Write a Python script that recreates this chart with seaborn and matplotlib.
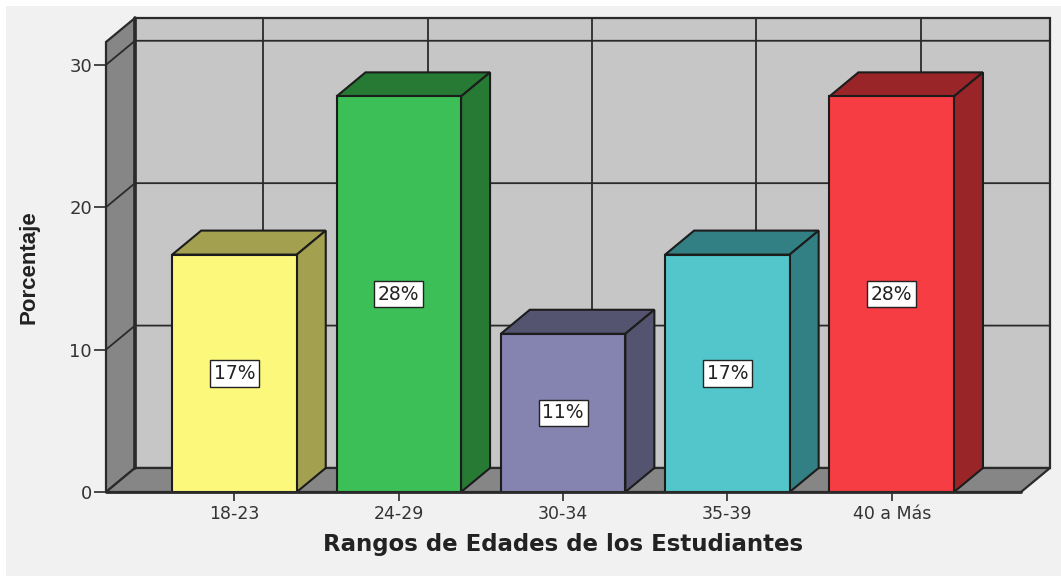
import matplotlib
matplotlib.use("Agg")
import matplotlib.pyplot as plt
from matplotlib.patches import Polygon, Rectangle
import pandas as pd
import seaborn as sns

rangos = ["18-23", "24-29", "30-34", "35-39", "40 a Más"]
porcentaje = [16.67, 27.78, 11.11, 16.67, 27.78]
etiquetas = ["17%", "28%", "11%", "17%", "28%"]
y_ticks = [0, 10, 20, 30]

colores = ["#FCF87C", "#3CBF56", "#8583B0", "#52C6CA", "#F53D43"]
colores_lado = ["#A3A050", "#267A33", "#555470", "#338084", "#9A2529"]

W, H = 1061, 576
# profundidad del efecto 3D en unidades de datos
dx = 29 / 164.3
dy = 24 / 14.23
x_min, x_max = -0.782, 4.787
y_min, y_max = 0, 31.6

sns.set_theme(style="white")
plt.rcParams["font.family"] = ["DejaVu Sans"]
fig = plt.figure(figsize=(W / 100, H / 100), dpi=100, facecolor="white")
fig.add_artist(Rectangle((6 / W, 0), 1 - 6 / W, 1 - 6 / H, transform=fig.transFigure,
                         facecolor="#F1F1F1", edgecolor="none", zorder=-5))
ax = fig.add_axes([106 / W, (H - 492) / H, (1021 - 106) / W, (492 - 42) / H])
ax.patch.set_alpha(0)

df = pd.DataFrame({"rango": rangos, "porcentaje": porcentaje})
sns.barplot(data=df, x="rango", y="porcentaje", hue="rango", palette=colores, legend=False,
            width=0.758, saturation=1, edgecolor="#1c1c1c", linewidth=1.5, ax=ax, zorder=5)
ax.set_xlim(x_min, x_max)
ax.set_ylim(y_min, y_max)
for s in ax.spines.values():
    s.set_visible(False)

linea = "#2a2a2a"
pared = dict(edgecolor=linea, linewidth=1.6, clip_on=False, zorder=1)
# pared del fondo, pared izquierda y piso
ax.add_patch(Polygon([(x_min + dx, y_min + dy), (x_max + dx, y_min + dy), (x_max + dx, y_max + dy),
                      (x_min + dx, y_max + dy)], facecolor="#C6C6C6", **pared))
ax.add_patch(Polygon([(x_min, y_min), (x_min + dx, y_min + dy), (x_min + dx, y_max + dy),
                      (x_min, y_max)], facecolor="#868686", **pared))
ax.add_patch(Polygon([(x_min, y_min), (x_max, y_min), (x_max + dx, y_min + dy),
                      (x_min + dx, y_min + dy)], facecolor="#868686", **pared))

# rejilla
for v in y_ticks[1:]:
    ax.plot([x_min, x_min + dx, x_max + dx], [v, v + dy, v + dy], color=linea, lw=1.3,
            clip_on=False, zorder=2)
for i in range(len(rangos)):
    ax.plot([i + dx, i + dx], [y_min + dy, y_max + dy], color=linea, lw=1.3, clip_on=False, zorder=2)
ax.plot([x_min + dx, x_min + dx], [y_min + dy, y_max + dy], color=linea, lw=2.6, clip_on=False, zorder=3)
ax.plot([x_min, x_max], [y_min, y_min], color=linea, lw=2, clip_on=False, zorder=6)

# caras laterales de las barras
for p, lado in zip(ax.patches, colores_lado):
    x0, x1, h = p.get_x(), p.get_x() + p.get_width(), p.get_height()
    ax.add_patch(Polygon([(x0, h), (x1, h), (x1 + dx, h + dy), (x0 + dx, h + dy)], facecolor=lado,
                         edgecolor="#1c1c1c", linewidth=1.5, clip_on=False, zorder=4))
    ax.add_patch(Polygon([(x1, 0), (x1 + dx, dy), (x1 + dx, h + dy), (x1, h)], facecolor=lado,
                         edgecolor="#1c1c1c", linewidth=1.5, clip_on=False, zorder=4))

for cont, txt in zip(ax.containers, etiquetas):
    ax.bar_label(cont, labels=[txt], label_type="center", fontsize=13.5, color="#222222", zorder=7,
                 bbox=dict(facecolor="white", edgecolor="#222222", linewidth=1, boxstyle="square,pad=0.2"))

ax.set_yticks(y_ticks)
ax.tick_params(axis="y", left=True, length=8.5, width=1.2, color=linea, labelsize=13,
               labelcolor="#333333", pad=1.5)
ax.tick_params(axis="x", bottom=True, length=6.5, width=1.2, color=linea, labelsize=12.5,
               labelcolor="#333333", pad=3)
ax.set_xlabel("Rangos de Edades de los Estudiantes", fontsize=16.5, fontweight="bold", color="#222222")
ax.xaxis.set_label_coords((563 - 106) / (1021 - 106), -(545 - 492) / (492 - 42), transform=ax.transAxes)
ax.xaxis.label.set_va("center")
ax.set_ylabel("Porcentaje", fontsize=16, fontweight="bold", color="#222222",
              fontfamily=["Liberation Sans"])
ax.yaxis.set_label_coords(-(106 - 29) / (1021 - 106), (492 - 267) / (492 - 42), transform=ax.transAxes)
ax.yaxis.label.set_va("center")

fig.savefig("out.png", dpi=100)
